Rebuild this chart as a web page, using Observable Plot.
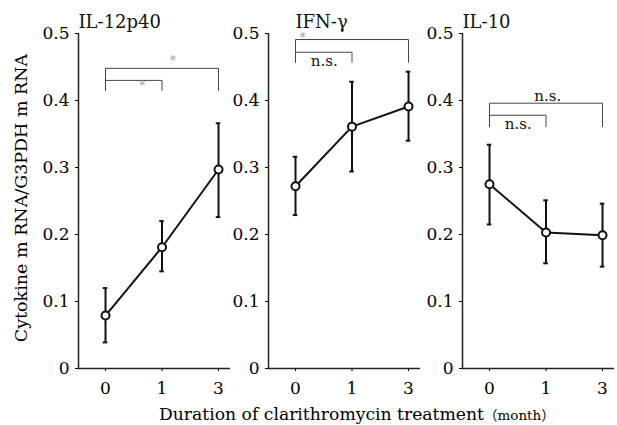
<!DOCTYPE html>
<html><head><meta charset="utf-8">
<script src="https://cdn.jsdelivr.net/npm/d3@7"></script>
<script src="https://cdn.jsdelivr.net/npm/@observablehq/plot@0.6"></script>
<style>
body{margin:0;background:#fff;}
#wrap{position:relative;width:617px;height:425px;font-family:"DejaVu Serif",serif;color:#000;overflow:hidden;background:#fff;}
.panel{position:absolute;top:0;}
#ylab{position:absolute;left:21px;top:198px;transform:translate(-50%,-50%) rotate(-90deg);white-space:nowrap;font-size:17.5px;}
#xlab{position:absolute;left:159px;top:404px;font-size:17.2px;white-space:nowrap;line-height:20px;}
.fw{font-family:"Noto Sans CJK JP",sans-serif;font-size:13.5px;}
</style></head>
<body>
<div id="wrap">
<div id="ylab">Cytokine m RNA/G3PDH m RNA</div>
<div id="xlab">Duration of clarithromycin treatment<span class="fw">（</span><span style="font-size:13.5px">month</span><span class="fw">）</span></div>
</div>
<script>
// categories
const months = ["0", "1", "3"];
const cytokines = ["IL-12p40", "IFN-γ", "IL-10"];
const yTicks = [0, 0.1, 0.2, 0.3, 0.4, 0.5];

// series values (mean, upper and lower error bar ends)
const il12Mean = [0.079, 0.181, 0.297];
const il12Hi   = [0.120, 0.220, 0.366];
const il12Lo   = [0.039, 0.145, 0.226];

const ifnMean = [0.272, 0.361, 0.391];
const ifnHi   = [0.316, 0.428, 0.443];
const ifnLo   = [0.229, 0.294, 0.340];

const il10Mean = [0.275, 0.203, 0.199];
const il10Hi   = [0.334, 0.251, 0.246];
const il10Lo   = [0.215, 0.157, 0.152];

// significance brackets (month index from -> to, bar level, leg end)
const il12BrFrom = [0, 0], il12BrTo = [2, 1], il12BrLevel = [0.448, 0.430], il12BrLeg = [0.415, 0.415];
const ifnBrFrom  = [0, 0], ifnBrTo  = [2, 1], ifnBrLevel  = [0.491, 0.472], ifnBrLeg  = [0.457, 0.457];
const il10BrFrom = [0, 0], il10BrTo = [2, 1], il10BrLevel = [0.396, 0.378], il10BrLeg = [0.361, 0.361];

// bracket labels
const il12Lab = ["*", "*"], il12LabX = [1.19, 0.65], il12LabY = [0.458, 0.421];
const ifnLab  = ["*", "n.s."], ifnLabX = [0.13, 0.51], ifnLabY = [0.493, 0.459];
const il10Lab = ["n.s.", "n.s."], il10LabX = [1.03, 0.51], il10LabY = [0.407, 0.364];

const panels = [
  {title: cytokines[0], mean: il12Mean, hi: il12Hi, lo: il12Lo, bf: il12BrFrom, bt: il12BrTo, bl: il12BrLevel, bg: il12BrLeg, lab: il12Lab, lx: il12LabX, ly: il12LabY, axisLeft: 78, titleAtPoint: false},
  {title: cytokines[1], mean: ifnMean, hi: ifnHi, lo: ifnLo, bf: ifnBrFrom, bt: ifnBrTo, bl: ifnBrLevel, bg: ifnBrLeg, lab: ifnLab, lx: ifnLabX, ly: ifnLabY, axisLeft: 268, titleAtPoint: true},
  {title: cytokines[2], mean: il10Mean, hi: il10Hi, lo: il10Lo, bf: il10BrFrom, bt: il10BrTo, bl: il10BrLevel, bg: il10BrLeg, lab: il10Lab, lx: il10LabX, ly: il10LabY, axisLeft: 462, titleAtPoint: false}
];

const xDomain = [-0.478, 2.212];
const ML = 50, INNER = 152, MR = 5;
const wrap = document.getElementById("wrap");

panels.forEach(p => {
  const rows = months.map((m, i) => ({i, mean: p.mean[i], hi: p.hi[i], lo: p.lo[i]}));
  const brPts = [];
  p.bf.forEach((f, k) => {
    const t = p.bt[k];
    brPts.push({k, x: f, y: p.bg[k]}, {k, x: f, y: p.bl[k]}, {k, x: t, y: p.bl[k]}, {k, x: t, y: p.bg[k]});
  });
  const labs = p.lab.map((t, k) => ({t, x: p.lx[k], y: p.ly[k], star: t === "*"}));
  const chart = Plot.plot({
    width: ML + INNER + MR,
    height: 403,
    marginLeft: ML,
    marginRight: MR,
    marginTop: 33,
    marginBottom: 35,
    style: {fontFamily: "DejaVu Serif, serif", fontSize: "17px", color: "#000", background: "transparent", overflow: "visible"},
    x: {type: "linear", domain: xDomain},
    y: {domain: [0, 0.5]},
    marks: [
      Plot.axisY({ticks: yTicks, tickFormat: d => d === 0 ? "0" : d3.format(".1f")(d), tickSize: 3, tickPadding: 6, label: null, fontSize: 17}),
      Plot.axisX({ticks: [0, 1, 2], tickFormat: i => months[i], tickSize: 3, tickPadding: 10, label: null, fontSize: 17}),
      Plot.ruleY([0], {stroke: "#222", strokeWidth: 1.5}),
      Plot.ruleX([xDomain[0]], {stroke: "#222", strokeWidth: 1.5}),
      Plot.line(brPts, {x: "x", y: "y", z: "k", stroke: "#444", strokeWidth: 1}),
      Plot.text(labs.filter(d => !d.star), {x: "x", y: "y", text: "t", fontSize: 15, fill: "#111"}),
      Plot.text(labs.filter(d => d.star), {x: "x", y: "y", text: "t", fontSize: 12, fill: "#999"}),
      Plot.ruleX(rows, {x: "i", y1: "lo", y2: "hi", stroke: "#111", strokeWidth: 2}),
      Plot.ruleY(rows, {y: "hi", x1: d => d.i - 0.04, x2: d => d.i + 0.04, stroke: "#111", strokeWidth: 2}),
      Plot.ruleY(rows, {y: "lo", x1: d => d.i - 0.04, x2: d => d.i + 0.04, stroke: "#111", strokeWidth: 2}),
      Plot.line(rows, {x: "i", y: "mean", stroke: "#111", strokeWidth: 2}),
      Plot.dot(rows, {x: "i", y: "mean", r: 4, fill: "white", stroke: "#111", strokeWidth: 2}),
      Plot.text([p.title], {x: p.titleAtPoint ? 0 : xDomain[0], y: 0.5, dy: -6, lineAnchor: "bottom", textAnchor: "start", fontSize: 18, fill: "#111"})
    ]
  });
  chart.classList.add("panel");
  chart.style.left = (p.axisLeft - ML) + "px";
  wrap.appendChild(chart);
});
</script>
</body></html>
